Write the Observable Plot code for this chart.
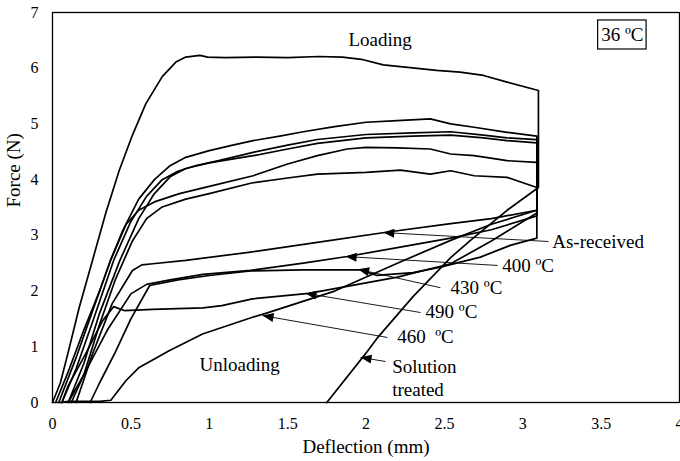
<!DOCTYPE html>
<html><head><meta charset="utf-8">
<script src="https://cdn.jsdelivr.net/npm/d3@7"></script>
<script src="https://cdn.jsdelivr.net/npm/@observablehq/plot@0.6"></script>
<style>body{margin:0;background:#fff}svg{display:block}</style>
</head><body><div id="chart"></div>
<script>
// ---- tick values ----
const xTicks = [0, 0.5, 1, 1.5, 2, 2.5, 3, 3.5, 4];
const yTicks = [0, 1, 2, 3, 4, 5, 6, 7];

// ---- curves [deflection mm, force N] ----
const stLoad = [[0,0],[0.05,0.35],[0.1,0.9],[0.17,1.7],[0.255,2.55],[0.34,3.4],[0.425,4.16],[0.51,4.8],[0.595,5.36],[0.7,5.85],[0.787,6.11],[0.85,6.2],[0.94,6.23],[0.99,6.2],[1.1,6.19],[1.3,6.2],[1.5,6.19],[1.7,6.21],[1.85,6.2],[1.97,6.16],[2.11,6.06],[2.25,6.02],[2.45,5.96],[2.6,5.93],[2.75,5.87],[2.9,5.75],[3.1,5.6]];
const stUnload = [[3.1,3.86],[2.9,3.45],[2.67,2.92],[2.54,2.6],[2.3,1.9],[2.07,1.15],[1.99,0.85],[1.75,0]];
const arLoad = [[0.02,0],[0.1,0.55],[0.2,1.3],[0.3,2.0],[0.37,2.55],[0.45,3.1],[0.55,3.65],[0.65,4.0],[0.75,4.25],[0.85,4.4],[1.0,4.52],[1.15,4.62],[1.28,4.7],[1.45,4.78],[1.6,4.86],[1.8,4.95],[2.0,5.03],[2.2,5.06],[2.41,5.09],[2.54,5.0],[2.69,4.94],[2.9,4.85],[3.09,4.78]];
const arUnload = [[3.09,3.45],[2.8,3.3],[2.54,3.21],[2.14,3.06],[1.7,2.88],[1.263,2.7],[0.85,2.55],[0.64,2.49],[0.57,2.47],[0.51,2.37],[0.38,1.77],[0.255,0.87],[0.17,0.16],[0.15,0]];
const t400Load = [[0.1,0],[0.2,0.7],[0.3,1.6],[0.43,2.55],[0.55,3.3],[0.65,3.75],[0.75,4.05],[0.85,4.2],[1.0,4.3],[1.28,4.43],[1.5,4.55],[1.69,4.65],[2.0,4.75],[2.3,4.78],[2.54,4.8],[2.75,4.75],[2.9,4.7],[3.09,4.66]];
const t400Unload = [[3.09,3.35],[2.8,3.1],[2.54,2.95],[2.2,2.78],[1.88,2.62],[1.6,2.5],[1.263,2.37],[0.96,2.3],[0.75,2.2],[0.6,2.12],[0.5,1.95],[0.35,1.3],[0.2,0.5],[0.1,0]];
const t430Load = [[0.12,0],[0.2,0.5],[0.3,1.4],[0.4,2.2],[0.51,2.9],[0.6,3.3],[0.7,3.51],[0.85,3.65],[1.0,3.75],[1.27,3.94],[1.5,4.03],[1.69,4.1],[2.0,4.13],[2.22,4.17],[2.41,4.1],[2.54,4.16],[2.69,4.07],[2.9,4.04],[3.09,3.86]];
const t430Unload = [[3.09,2.95],[2.92,2.82],[2.73,2.61],[2.475,2.43],[2.3,2.33],[2.07,2.28],[1.965,2.38],[1.6,2.38],[1.263,2.36],[1.0,2.28],[0.8,2.2],[0.62,2.1],[0.5,1.5],[0.4,0.9],[0.3,0.35],[0.24,0]];
const t460Load = [[0.06,0],[0.15,0.6],[0.25,1.4],[0.39,2.55],[0.5,3.25],[0.6,3.7],[0.7,4.0],[0.8,4.15],[0.91,4.25],[1.06,4.34],[1.28,4.49],[1.5,4.62],[1.69,4.72],[2.0,4.81],[2.3,4.84],[2.54,4.86],[2.75,4.8],[2.9,4.75],[3.09,4.72]];
const t460Unload = [[3.09,3.45],[2.8,3.2],[2.54,2.91],[2.2,2.5],[1.8,2.0],[1.36,1.6],[1.276,1.53],[0.957,1.23],[0.744,0.93],[0.553,0.63],[0.468,0.39],[0.372,0.04],[0.3,0.02],[0.1,0.02],[0.05,0]];
const t490Load = [[0.04,0],[0.15,0.8],[0.25,1.6],[0.37,2.55],[0.47,3.2],[0.55,3.45],[0.65,3.6],[0.81,3.75],[1.0,3.88],[1.28,4.07],[1.5,4.28],[1.69,4.43],[1.88,4.55],[2.0,4.58],[2.2,4.57],[2.41,4.55],[2.54,4.46],[2.69,4.43],[2.9,4.34],[3.09,4.31]];
const t490Unload = [[3.09,3.4],[2.8,2.9],[2.54,2.49],[2.2,2.25],[1.635,1.96],[1.276,1.86],[1.08,1.74],[0.96,1.7],[0.64,1.67],[0.457,1.65],[0.39,1.72],[0.32,1.47],[0.21,0.87],[0.1,0.3],[0.06,0]];

// ---- annotations ----
const labelText = ["As-received", "400 ºC", "430 ºC", "490 ºC", "460\u00a0 ºC", "Solution", "treated", "Unloading", "Loading"];
const labelX = [3.188, 2.869, 2.539, 2.38, 2.199, 2.167, 2.167, 0.938, 1.888];
const labelY = [2.88, 2.46, 2.06, 1.625, 1.185, 0.646, 0.224, 0.682, 6.516];
const arrowTipX = [2.11, 1.87, 1.95, 1.614, 1.34, 1.965];
const arrowTipY = [3.05, 2.62, 2.39, 1.96, 1.56, 0.81];
const arrowTailX = [3.164, 2.84, 2.475, 2.348, 2.137, 2.124];
const arrowTailY = [2.89, 2.46, 2.06, 1.615, 1.167, 0.736];
const boxText = "36 ºC";
const boxX = [3.481, 3.79];
const boxY = [6.336, 6.857];

// ---- build tables ----
const W = 680, H = 461, mL = 52, mR = 1, mT = 12, mB = 59;
const paths = [[stLoad, stUnload], [arLoad, arUnload], [t400Load, t400Unload], [t430Load, t430Unload], [t460Load, t460Unload], [t490Load, t490Unload]];
const rows = [];
paths.forEach(([l, u], i) => {
  l.concat(u).forEach(([x, y]) => rows.push({id: i, x, y}));
});
const xs = d3.scaleLinear([0, 4], [mL, W - mR]);
const ys = d3.scaleLinear([0, 7], [H - mB, mT]);
const arrows = arrowTipX.map((tx, i) => {
  const dx = xs(arrowTailX[i]) - xs(tx), dy = ys(arrowTailY[i]) - ys(arrowTipY[i]);
  return {tx, ty: arrowTipY[i], lx: arrowTailX[i], ly: arrowTailY[i], angle: Math.atan2(dy, dx) * 180 / Math.PI};
});
const labels = labelText.map((t, i) => ({t, x: labelX[i], y: labelY[i]}));
const head = {draw(ctx) { ctx.moveTo(0, 0); ctx.lineTo(11, -4.5); ctx.lineTo(11, 4.5); ctx.closePath(); }};

const font = "'Liberation Serif', 'Times New Roman', serif";
const plot = Plot.plot({
  width: W, height: H, marginLeft: mL, marginRight: mR, marginTop: mT, marginBottom: mB,
  style: {fontFamily: font, fontSize: "16px", color: "#000", background: "#fff", overflow: "visible"},
  x: {domain: [0, 4], ticks: xTicks, tickSize: 0, tickPadding: 15, label: null, tickFormat: d => String(d)},
  y: {domain: [0, 7], ticks: yTicks, tickSize: 0, tickPadding: 14, label: null, tickFormat: d => String(d)},
  marks: [
    Plot.line(rows, {x: "x", y: "y", z: "id", stroke: "#000", strokeWidth: 1.7, curve: "linear"}),
    Plot.link(arrows, {x1: "tx", y1: "ty", x2: "lx", y2: "ly", stroke: "#000", strokeWidth: 0.9}),
    Plot.dot(arrows, {x: "tx", y: "ty", symbol: head, rotate: "angle", fill: "#000", stroke: "none", r: 5}),
    Plot.rect([0], {x1: () => boxX[0], x2: () => boxX[1], y1: () => boxY[0], y2: () => boxY[1], fill: "#fff", stroke: "#000", strokeWidth: 1.2}),
    Plot.text([boxText], {x: (boxX[0] + boxX[1]) / 2, y: (boxY[0] + boxY[1]) / 2, text: d => d, fontSize: 19, textAnchor: "middle"}),
    Plot.text(labels, {x: "x", y: "y", text: "t", fontSize: 19, textAnchor: "start"}),
    Plot.text(["Deflection (mm)"], {frameAnchor: "bottom", dy: 50, text: d => d, fontSize: 19}),
    Plot.text(["Force (N)"], {frameAnchor: "left", dx: -39, rotate: -90, text: d => d, fontSize: 19}),
    Plot.frame({stroke: "#000", strokeWidth: 1.3})
  ]
});
document.getElementById("chart").appendChild(plot);
</script>
</body></html>
